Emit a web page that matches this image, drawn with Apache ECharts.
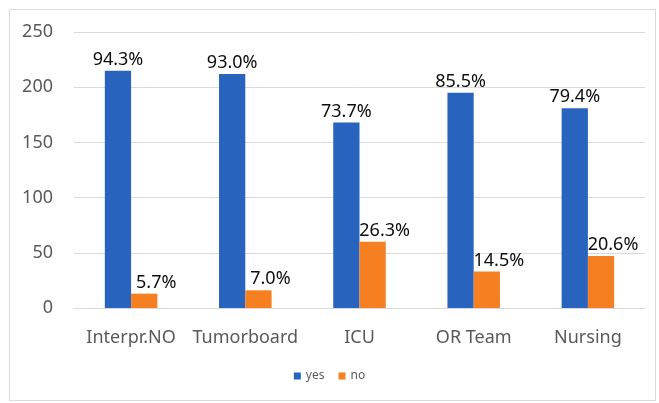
<!DOCTYPE html>
<html><head><meta charset="utf-8">
<script src="https://cdn.jsdelivr.net/npm/echarts@6/dist/echarts.min.js"></script>
<style>html,body{margin:0;padding:0;background:#fff}#c{width:659px;height:403px}</style>
</head><body><div id="c"></div>
<script>
const categories = ["Interpr.NO", "Tumorboard", "ICU", "OR Team", "Nursing"];
const yesValues = [215, 212, 168, 195, 181];
const noValues = [13, 16, 60, 33, 47];
const yesLabels = ["94.3%", "93.0%", "73.7%", "85.5%", "79.4%"];
const noLabels = ["5.7%", "7.0%", "26.3%", "14.5%", "20.6%"];
const yTicks = [0, 50, 100, 150, 200, 250];

const font = "'Noto Sans', 'Open Sans', sans-serif";
const chart = echarts.init(document.getElementById('c'), null, {renderer: 'canvas'});
chart.setOption({
  animation: false,
  graphic: [{type: 'rect', shape: {x: 9.5, y: 9.5, width: 646, height: 391}, style: {fill: 'none', stroke: '#d9d9d9', lineWidth: 1}}],
  grid: {left: 74, right: 14, top: 32, bottom: 95},
  legend: {
    bottom: 16, left: 'center', itemWidth: 7, itemHeight: 7, itemGap: 14,
    icon: 'rect', textStyle: {fontFamily: font, fontSize: 12, color: '#595959'},
    data: ['yes', 'no']
  },
  xAxis: {
    type: 'category', data: categories,
    axisLine: {lineStyle: {color: '#d9d9d9'}}, axisTick: {show: false},
    axisLabel: {fontFamily: font, fontSize: 18, color: '#595959', margin: 21, interval: 0}
  },
  yAxis: {
    type: 'value', min: yTicks[0], max: yTicks[yTicks.length - 1], interval: 50,
    axisLine: {show: false}, axisTick: {show: false},
    splitLine: {lineStyle: {color: '#d9d9d9'}},
    axisLabel: {fontFamily: font, fontSize: 18, color: '#595959', margin: 21}
  },
  series: [
    {name: 'yes', type: 'bar', data: yesValues, barGap: '0%', barCategoryGap: '54%',
      itemStyle: {color: '#2864BE'},
      label: {show: true, position: 'top', distance: 2, fontFamily: font, fontSize: 18, color: '#0d0d0d',
        formatter: p => yesLabels[p.dataIndex]}},
    {name: 'no', type: 'bar', data: noValues,
      itemStyle: {color: '#F57F21'},
      label: {show: true, position: 'top', distance: 2, offset: [12, 0], fontFamily: font, fontSize: 18, color: '#0d0d0d',
        formatter: p => noLabels[p.dataIndex]}}
  ]
});
</script></body></html>
